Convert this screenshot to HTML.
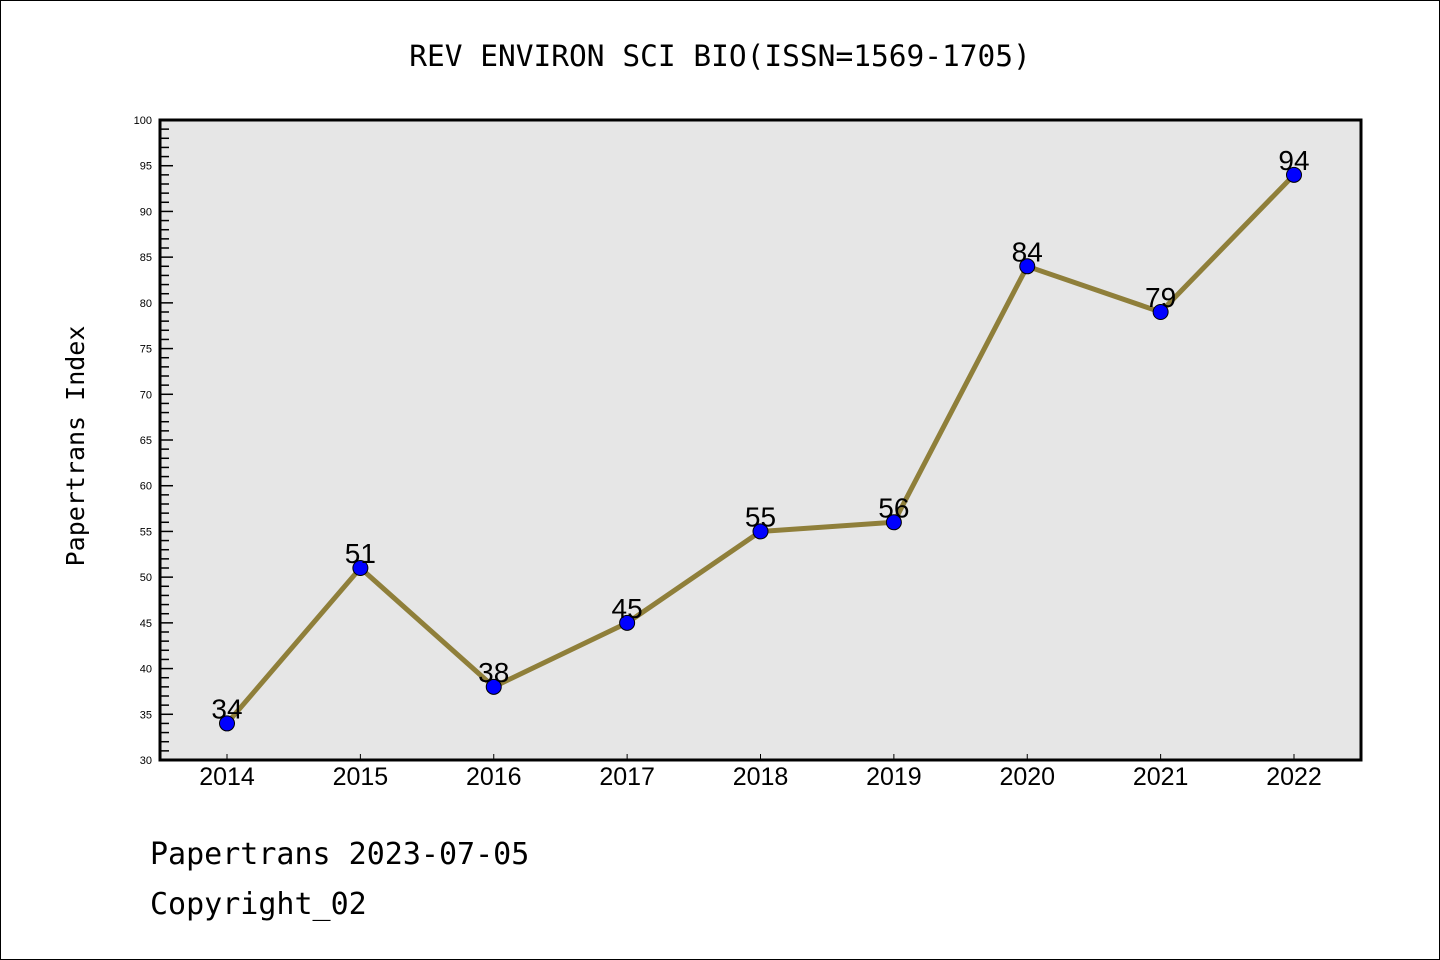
<!DOCTYPE html>
<html><head><meta charset="utf-8"><style>
body{margin:0;background:#fff}
svg{display:block;font-family:"Liberation Sans","DejaVu Sans",sans-serif}
</style></head><body>
<svg id="c" width="1440" height="960">
<rect x="0.5" y="0.5" width="1439" height="959" fill="#fff" stroke="#000"/>
<text x="720" y="66" text-anchor="middle" font-size="29.5" font-family="'DejaVu Sans Mono','Liberation Mono',monospace">REV ENVIRON SCI BIO(ISSN=1569-1705)</text>
<rect x="160" y="120" width="1201" height="640" fill="#e6e6e6"/>
<g id="ticks"></g>
<g id="series"></g>
<rect x="160" y="120" width="1201" height="640" fill="none" stroke="#000" stroke-width="3"/>
<text transform="translate(84,446) rotate(-90)" text-anchor="middle" font-size="25" font-family="'DejaVu Sans Mono','Liberation Mono',monospace">Papertrans Index</text>
<text x="150" y="864" font-size="30" font-family="'DejaVu Sans Mono','Liberation Mono',monospace">Papertrans 2023-07-05</text>
<text x="150" y="914" font-size="30" font-family="'DejaVu Sans Mono','Liberation Mono',monospace">Copyright_02</text>
</svg>
<script>
const years=["2014","2015","2016","2017","2018","2019","2020","2021","2022"];
const values=[34,51,38,45,55,56,84,79,94];
const yTicks=[30,35,40,45,50,55,60,65,70,75,80,85,90,95,100];
const NS="http://www.w3.org/2000/svg";
const yMin=30,yMax=100;
function Y(v){return 760-(v-yMin)/(yMax-yMin)*640;}
function X(i){return 227+i*(1294-227)/(years.length-1);}
function mk(t,a,p){const e=document.createElementNS(NS,t);for(const k in a)e.setAttribute(k,a[k]);p.appendChild(e);return e;}
const tg=document.getElementById('ticks'),sg=document.getElementById('series');
for(let v=yMin;v<=yMax;v++){
  const major=v%5===0;
  const l=mk('line',{x1:160,x2:major?173:169,y1:Y(v),y2:Y(v),stroke:'#000','stroke-width':1.5},tg);
  
  
}
yTicks.forEach(v=>{
  const t=mk('text',{x:152,y:Y(v)+4,'text-anchor':'end','font-size':11},tg);
  t.textContent=v;
  
  
});
years.forEach((y,i)=>{
  const l=mk('line',{x1:X(i),x2:X(i),y1:760,y2:754,stroke:'#000','stroke-width':1},tg);
  
  
  const t=mk('text',{x:X(i),y:785,'text-anchor':'middle','font-size':25},tg);
  t.textContent=y;
  
  
});
const pl=mk('polyline',{points:values.map((v,i)=>X(i)+','+Y(v)).join(' '),fill:'none',stroke:'#8f7f3a','stroke-width':5},sg);


values.forEach((v,i)=>{
  const c=mk('circle',{cx:X(i),cy:Y(v),r:7.5,fill:'#0000ff',stroke:'#000','stroke-width':1},sg);
  
  
  const t=mk('text',{x:X(i),y:Y(v)-5,'text-anchor':'middle','font-size':28},sg);
  t.textContent=v;
  
  
});
</script>
</body></html>
